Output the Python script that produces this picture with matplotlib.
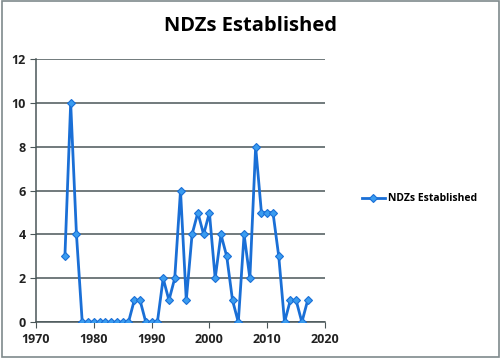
import matplotlib.pyplot as plt
from matplotlib.patches import Rectangle

years = [1975, 1976, 1977, 1978, 1979, 1980, 1981, 1982, 1983, 1984, 1985, 1986,
         1987, 1988, 1989, 1990, 1991, 1992, 1993, 1994, 1995, 1996, 1997, 1998,
         1999, 2000, 2001, 2002, 2003, 2004, 2005, 2006, 2007, 2008, 2009, 2010,
         2011, 2012, 2013, 2014, 2015, 2016, 2017]
ndzs = [3, 10, 4, 0, 0, 0, 0, 0, 0, 0, 0, 0,
        1, 1, 0, 0, 0, 2, 1, 2, 6, 1, 4, 5,
        4, 5, 2, 4, 3, 1, 0, 4, 2, 8, 5, 5,
        5, 3, 0, 1, 1, 0, 1]
x_ticks = [1970, 1980, 1990, 2000, 2010, 2020]
y_ticks = [0, 2, 4, 6, 8, 10, 12]
series_name = "NDZs Established"

plt.rcParams["font.family"] = ["Open Sans", "DejaVu Sans"]
plt.rcParams["font.weight"] = "bold"

fig = plt.figure(figsize=(5, 3.58), dpi=100)
ax = fig.add_axes([0.072, 0.100, 0.578, 0.735])

ax.plot(years, ndzs, color="#1a6fd6", lw=2, marker="D", markersize=4.5,
        markerfacecolor="#3a9cf0", markeredgecolor="#1a6fd6", markeredgewidth=0.8,
        label=series_name, zorder=3)

ax.set_xlim(1970, 2020)
ax.set_ylim(0, 12)
ax.set_xticks(x_ticks)
ax.set_yticks(y_ticks)
ax.yaxis.grid(True, color="#4a5658", lw=1.1)
ax.set_axisbelow(True)
for s in ["top", "right"]:
    ax.spines[s].set_visible(False)
for s in ["left", "bottom"]:
    ax.spines[s].set_color("#4a5658")
    ax.spines[s].set_linewidth(1.1)
ax.tick_params(colors="#4a5658", labelcolor="#222222", length=4, labelsize=9)

fig.suptitle(series_name, x=0.5, y=0.955, fontsize=14.5, fontweight="bold")
fig.legend(loc="center left", bbox_to_anchor=(0.705, 0.445), frameon=False,
           fontsize=7.5, handlelength=2.2, handletextpad=0.3)

fig.patches.append(Rectangle((0.003, 0.004), 0.994, 0.992, transform=fig.transFigure,
                             fill=False, edgecolor="#7f8a8c", lw=1.2))

fig.savefig("out.png", dpi=100)
